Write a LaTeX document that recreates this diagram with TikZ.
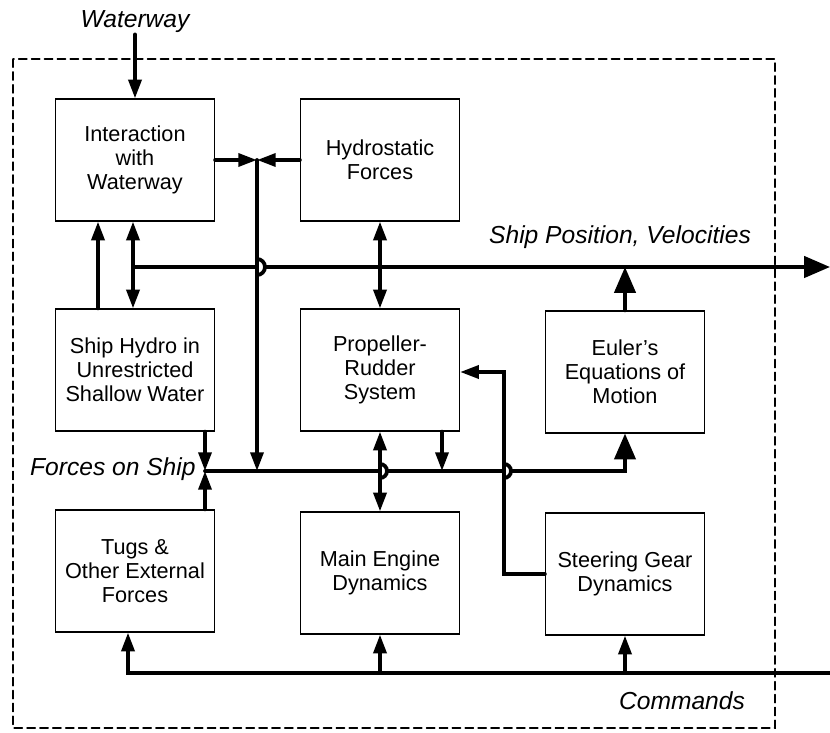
\documentclass[tikz,border=0pt]{standalone}
\usepackage{fontspec}
\setmainfont{Liberation Sans}
\usetikzlibrary{arrows.meta}

\begin{document}
\begin{tikzpicture}[x=0.03cm,y=-0.03cm,>={Triangle[length=16pt,width=11pt]},line cap=round,
  block/.style={draw,line width=1pt,minimum width=4.77cm,minimum height=3.66cm,align=center,inner sep=2pt,font=\fontsize{18.5}{20.5}\selectfont},
  lbl/.style={inner sep=1pt,font=\fontsize{21}{22}\selectfont\itshape},
  bus/.style={line width=3.2pt},
  big/.style={-{Triangle[length=22pt,width=18pt]}}]
\useasboundingbox (0,0) rectangle (830,733);
\draw[line width=1.3pt,dash pattern=on 7pt off 4pt] (13,59) rectangle (775,728);

\node[block] (inter) at (135,160) {Interaction\\with\\Waterway};
\node[block] (hydro) at (380,160) {Hydrostatic\\Forces};
\node[block] (ship) at (135,370) {Ship Hydro in\\Unrestricted\\Shallow Water};
\node[block] (prop) at (380,370) {Propeller-\\Rudder\\System};
\node[block] (euler) at (625,372) {Euler's\\Equations of\\Motion};
\node[block] (tugs) at (135,571) {Tugs \&\\Other External\\Forces};
\node[block] (engine) at (380,573) {Main Engine\\Dynamics};
\node[block] (steer) at (625,574) {Steering Gear\\Dynamics};

\node[lbl] (wway) at (135,22) {Waterway};
\node[lbl] (pos) at (620,237) {Ship Position, Velocities};
\node[lbl,anchor=east] (forces) at (197,469) {Forces on Ship};
\node[lbl] (cmds) at (682,701) {Commands};

\coordinate (j1) at (257,160);
\coordinate (p0) at (133,267);
\coordinate (pend) at (830,267);
\coordinate (sh) at (98,0);
\coordinate (f0) at (205,471);
\coordinate (pd) at (442,0);
\coordinate (st) at (504,372);
\coordinate (c0) at (128,673);
\coordinate (cend) at (830,673);

\draw[bus,->] (wway) -- (inter);
\draw[bus,->] (inter) -- (j1);
\draw[bus,->] (hydro) -- (j1);
\draw[bus,->] (j1) -- (j1 |- f0);

\draw[bus] (p0) -- (j1 |- p0);
\draw[bus] (j1 |- p0) ++(0,-8) arc[start angle=-90,end angle=90,radius=8];
\draw[bus,big] (j1 |- p0) ++(8,0) -- (pend);
\draw[bus,->] (p0) -- (p0 |- inter.south);
\draw[bus,->] (p0) -- (p0 |- ship.north);
\draw[bus,->] (sh |- ship.north) -- (sh |- inter.south);
\draw[bus,<->] (hydro) -- (prop);
\draw[bus,big] (euler) -- (euler.north |- p0);

\draw[bus,->] (ship.south -| f0) -- (f0);
\draw[bus,->] (tugs.north -| f0) -- (f0);
\draw[bus] (f0) -- (prop.south |- f0);
\draw[bus] (prop.south |- f0) ++(0,-7) arc[start angle=-90,end angle=90,radius=7];
\draw[bus] (prop.south |- f0) ++(7,0) -- (st |- f0);
\draw[bus] (st |- f0) ++(0,-7) arc[start angle=-90,end angle=90,radius=7];
\draw[bus,big] (st |- f0) ++(7,0) -| (euler.south);
\draw[bus,<->] (prop) -- (engine);
\draw[bus,->] (pd |- prop.south) -- (pd |- f0);
\draw[bus,->] (steer.west) -- (st |- steer.west) -- (st) -- (prop.east |- st);

\draw[bus,->] (cend) -- (c0) -- (c0 |- tugs.south);
\draw[bus,->] (engine.south |- c0) -- (engine.south);
\draw[bus,->] (steer.south |- c0) -- (steer.south);
\end{tikzpicture}
\end{document}
